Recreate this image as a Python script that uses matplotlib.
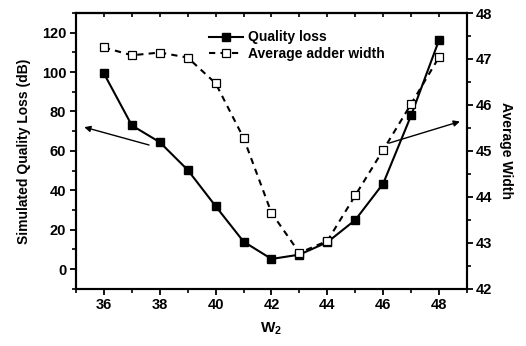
import matplotlib
matplotlib.use("Agg")
import matplotlib.pyplot as plt
from matplotlib.ticker import MultipleLocator

plt.rcParams['font.family'] = ['Liberation Sans', 'DejaVu Sans']
plt.rcParams['font.weight'] = 'bold'
plt.rcParams['mathtext.fontset'] = 'custom'
plt.rcParams['mathtext.bf'] = 'Liberation Sans:bold'
plt.rcParams['mathtext.rm'] = 'Liberation Sans:bold'

# data
w2 = [36, 37, 38, 39, 40, 41, 42, 43, 44, 45, 46, 47, 48]
quality_loss = [99.3, 72.9, 64.4, 50.3, 31.9, 13.9, 5.1, 7.3, 13.6, 24.9, 43.4, 78.0, 116.3]
avg_width = [47.25, 47.08, 47.14, 47.03, 46.47, 45.28, 43.65, 42.78, 43.04, 44.03, 45.02, 46.02, 47.04]

fig = plt.figure(figsize=(5.26, 3.46), dpi=100)
ax = fig.add_axes([0.1445, 0.1656, 0.7433, 0.7968])
ax2 = ax.twinx()

l1, = ax.plot(w2, quality_loss, color='black', lw=1.5, marker='s', ms=5.5,
              mfc='black', mec='black', label='Quality loss')
l2, = ax2.plot(w2, avg_width, color='black', lw=1.5, dashes=(3, 2.5), marker='s', ms=5.5,
               mfc='white', mec='black', mew=0.9, label='Average adder width')

ax.set_xlim(35, 49)
ax.set_ylim(-10, 130)
ax2.set_ylim(42, 48)

ax.xaxis.set_major_locator(MultipleLocator(2))
ax.xaxis.set_minor_locator(MultipleLocator(1))
ax.yaxis.set_major_locator(MultipleLocator(20))
ax.yaxis.set_minor_locator(MultipleLocator(10))
ax2.yaxis.set_major_locator(MultipleLocator(1))
ax2.yaxis.set_minor_locator(MultipleLocator(0.5))

ax.tick_params(axis='both', which='major', direction='out', length=4, width=1.3, labelsize=10.5, pad=3)
ax.tick_params(axis='both', which='minor', direction='out', length=3, width=1.2)
ax.tick_params(axis='x', top=False)
ax2.tick_params(axis='y', which='major', direction='out', length=4, width=1.3, labelsize=10.5, pad=2)
ax2.tick_params(axis='y', which='minor', direction='out', length=3, width=1.2)

top = ax.secondary_xaxis('top')
top.xaxis.set_major_locator(MultipleLocator(1))
top.tick_params(direction='in', length=3, width=1.2, labeltop=False)

for a in (ax, ax2):
    for s in a.spines.values():
        s.set_linewidth(1.5)
top.spines['top'].set_linewidth(1.5)

ax.set_xlabel(r'$\mathbf{W_2}$', fontsize=11, labelpad=6)
ax.set_ylabel('Simulated Quality Loss (dB)', fontsize=10, fontweight='bold', labelpad=8)
ax2.set_ylabel('Average Width', fontsize=10, fontweight='bold', rotation=270, labelpad=15)

arrow = dict(arrowstyle='-|>', color='black', lw=1.0, mutation_scale=9)
ax.annotate('', xy=(35.2, 72.4), xytext=(37.71, 62.6), arrowprops=arrow)
ax.annotate('', xy=(48.84, 75.3), xytext=(46.11, 63.5), arrowprops=arrow)

fig.legend(handles=[l1, l2], loc='upper left', bbox_to_anchor=(0.398, 0.912),
           frameon=False, fontsize=10, handlelength=2.4, handletextpad=0.35,
           labelspacing=0.2, borderpad=0, borderaxespad=0)

fig.savefig('out.png', dpi=100)
